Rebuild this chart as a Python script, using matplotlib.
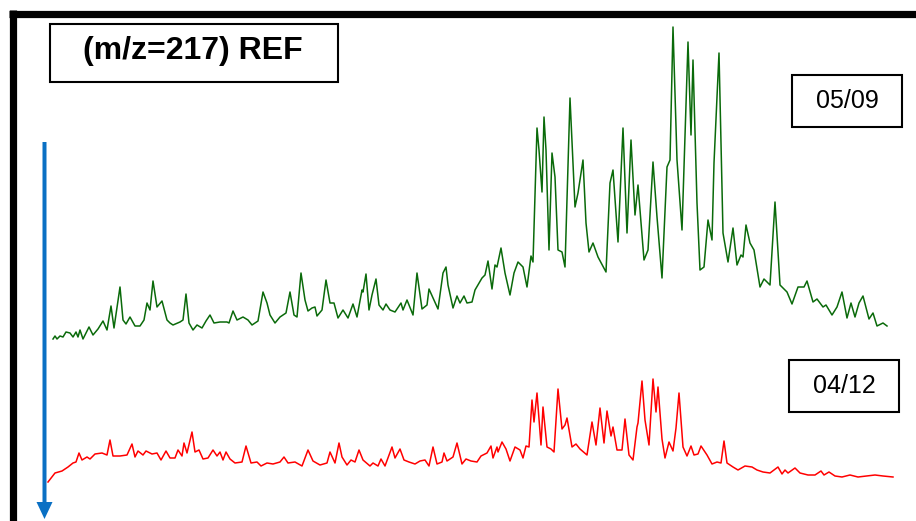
import matplotlib.pyplot as plt
from matplotlib.patches import Rectangle

# retention position (scan) and signal height
green_rt = [53, 55, 57, 60, 63, 66, 70, 73, 76, 78, 80, 83, 89, 93, 98, 103, 107, 111, 114, 120,
            123, 126, 130, 135, 140, 144, 147, 150, 153, 157, 162, 167, 170, 173, 180, 183, 186, 189,
            193, 197, 202, 206, 210, 214, 220, 227, 229, 233, 237, 243, 248, 252, 258, 263, 267, 270,
            275, 280, 286, 290, 294, 297, 301, 305, 308, 312, 315, 317, 322, 326, 330, 334, 338, 343,
            348, 353, 357, 362, 363, 366, 369, 372, 376, 379, 383, 386, 390, 395, 401, 403, 407, 413,
            417, 422, 427, 429, 434, 438, 443, 446, 448, 453, 457, 460, 464, 467, 472, 475, 482, 485,
            488, 492, 495, 497, 501, 505, 510, 514, 518, 523, 527, 531, 533, 537, 539, 542, 544, 546,
            549, 552, 555, 558, 562, 565, 570, 575, 578, 583, 586, 589, 593, 598, 606, 610, 613, 618,
            623, 627, 631, 635, 638, 644, 648, 653, 657, 662, 667, 670, 673, 677, 682, 685, 688, 691,
            693, 697, 700, 704, 708, 712, 714, 719, 723, 728, 733, 737, 741, 743, 746, 750, 754, 760,
            764, 770, 775, 780, 787, 792, 798, 804, 807, 813, 817, 823, 826, 832, 837, 842, 847, 851,
            855, 859, 863, 869, 873, 877, 883, 887]
green_sig = [182, 185, 182, 185, 184, 189, 188, 184, 189, 184, 191, 182, 194, 186, 192, 200, 191, 215, 193, 234,
             201, 197, 204, 195, 195, 201, 218, 211, 240, 214, 220, 201, 198, 196, 199, 201, 227, 198,
             191, 196, 193, 200, 206, 198, 199, 199, 198, 210, 201, 204, 201, 196, 200, 229, 218, 206,
             198, 204, 208, 229, 206, 204, 248, 221, 210, 213, 214, 205, 211, 241, 218, 218, 203, 211,
             203, 217, 204, 231, 229, 247, 211, 226, 242, 216, 211, 217, 211, 209, 218, 211, 221, 206,
             248, 212, 216, 232, 221, 212, 248, 254, 236, 213, 225, 218, 225, 218, 219, 231, 243, 246,
             260, 232, 256, 254, 273, 248, 226, 248, 259, 254, 234, 265, 259, 393, 371, 329, 404, 371,
             271, 368, 344, 271, 269, 254, 423, 314, 328, 361, 298, 269, 278, 264, 249, 338, 351, 279,
             393, 288, 381, 306, 336, 261, 271, 359, 304, 243, 354, 361, 494, 361, 291, 384, 479, 386,
             461, 318, 251, 254, 301, 281, 358, 468, 288, 259, 293, 256, 266, 264, 296, 278, 271, 234,
             242, 236, 319, 236, 229, 217, 234, 234, 240, 219, 222, 214, 216, 206, 214, 229, 203, 218,
             204, 218, 225, 202, 208, 195, 198, 195]

red_rt = [48, 55, 62, 68, 73, 76, 79, 82, 87, 90, 95, 102, 107, 110, 113, 120, 127, 132, 135, 138,
          143, 146, 152, 157, 161, 166, 170, 175, 178, 182, 184, 187, 192, 195, 199, 203, 208, 213,
          217, 220, 223, 226, 230, 235, 242, 246, 251, 257, 261, 267, 273, 280, 284, 288, 295, 302,
          308, 313, 320, 327, 330, 335, 339, 342, 347, 351, 355, 359, 363, 370, 373, 378, 381, 385,
          392, 395, 400, 404, 409, 415, 420, 425, 429, 433, 437, 442, 444, 447, 453, 457, 462, 466,
          471, 477, 481, 487, 491, 493, 497, 498, 502, 506, 510, 515, 520, 523, 526, 529, 532, 534,
          537, 541, 543, 547, 551, 554, 558, 562, 565, 567, 572, 576, 580, 587, 592, 596, 600, 604,
          607, 611, 613, 617, 622, 625, 629, 633, 637, 638, 642, 645, 649, 653, 656, 658, 662, 665,
          669, 673, 676, 679, 683, 687, 691, 694, 698, 701, 707, 712, 717, 721, 724, 727, 733, 738,
          745, 752, 757, 763, 770, 778, 782, 785, 788, 795, 800, 808, 815, 821, 824, 829, 835, 842,
          850, 858, 867, 875, 883, 893]
red_sig = [39, 48, 50, 54, 58, 59, 68, 61, 64, 62, 67, 68, 66, 81, 65, 65, 66, 77, 64, 70,
           66, 70, 67, 68, 61, 70, 63, 63, 71, 65, 78, 68, 89, 69, 71, 62, 63, 71,
           65, 69, 61, 69, 62, 58, 59, 75, 58, 59, 55, 58, 57, 59, 64, 58, 59, 55,
           71, 60, 56, 58, 69, 58, 78, 64, 56, 61, 59, 71, 61, 55, 58, 55, 62, 55,
           74, 63, 72, 61, 59, 57, 60, 61, 55, 74, 57, 59, 68, 60, 64, 78, 57, 62,
           60, 59, 65, 68, 75, 63, 74, 69, 79, 72, 60, 74, 71, 63, 75, 74, 121, 99,
           128, 76, 114, 74, 72, 69, 132, 92, 96, 103, 74, 77, 72, 66, 99, 76, 113, 78,
           110, 85, 94, 71, 71, 102, 66, 61, 94, 98, 140, 101, 76, 142, 109, 134, 82, 63,
           79, 70, 93, 128, 74, 65, 75, 66, 67, 75, 66, 57, 59, 58, 80, 58, 54, 51,
           55, 54, 51, 49, 48, 54, 47, 51, 48, 53, 48, 46, 46, 50, 46, 49, 45, 44,
           46, 44, 45, 46, 45, 44]

title = '(m/z=217) REF'
dates = ['05/09', '04/12']

W, H = 916, 521
fig = plt.figure(figsize=(W / 100, H / 100), dpi=100)
ax = fig.add_axes([0, 0, 1, 1])
ax.set_xlim(0, W)
ax.set_ylim(0, H)
ax.axis('off')

ax.plot(green_rt, green_sig, color='#0a6a0a', lw=1.1, solid_joinstyle='round')
ax.plot(red_rt, red_sig, color='#ff0000', lw=1.1, solid_joinstyle='round')

# heavy frame on top and left
ax.plot([9, W], [H - 13.5, H - 13.5], color='black', lw=5.2, solid_capstyle='butt')
ax.plot([12.5, 12.5], [0, H - 10], color='black', lw=5.2, solid_capstyle='butt')

# blue arrow on the left
ax.arrow(44.5, H - 142, 0, -(519 - 142), width=4, head_width=16, head_length=17,
         length_includes_head=True, color='#0a70c4', lw=0)

font = 'Liberation Sans'
ax.add_patch(Rectangle((50, H - 82), 288, 58, fill=False, ec='black', lw=1.5))
ax.text(193, H - 51, title, ha='center', va='center', fontsize=23, fontweight='bold',
        family=font)

ax.add_patch(Rectangle((792, H - 127), 110, 52, fill=False, ec='black', lw=1.5))
ax.text(847, H - 101, dates[0], ha='center', va='center', fontsize=18, family=font)
ax.add_patch(Rectangle((789, H - 412), 110, 52, fill=False, ec='black', lw=1.5))
ax.text(844, H - 386, dates[1], ha='center', va='center', fontsize=18, family=font)

fig.savefig('out.png', dpi=100)
